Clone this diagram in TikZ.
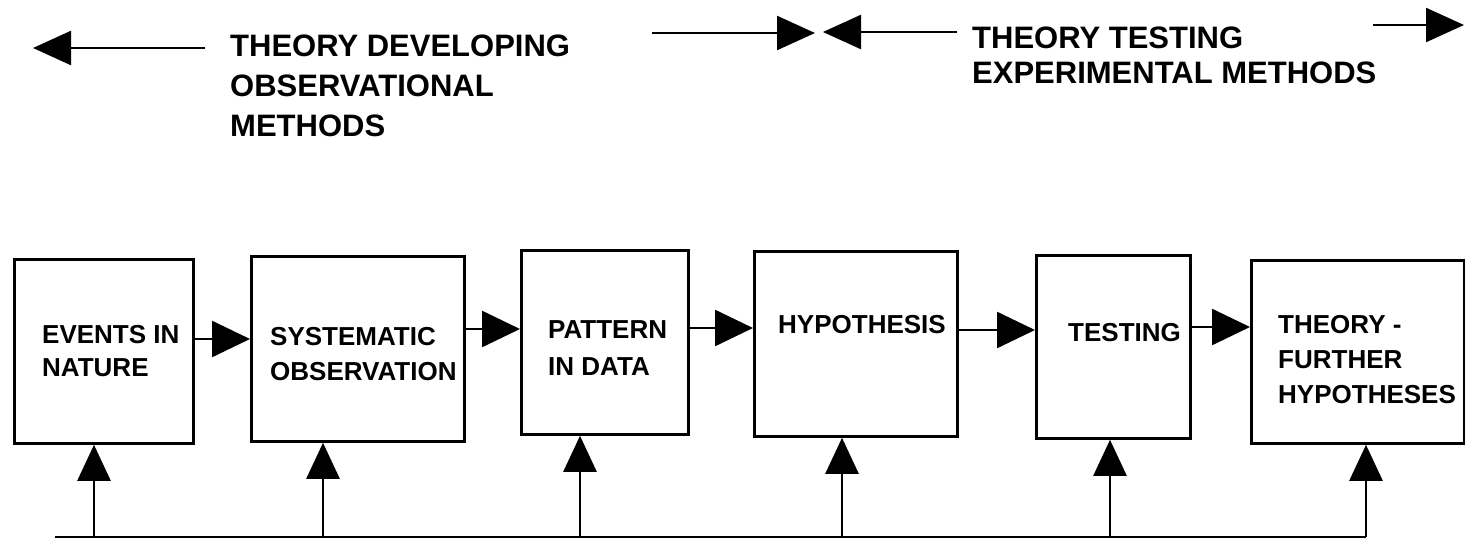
\documentclass[tikz,border=0pt]{standalone}
\usepackage{fontspec}
\setmainfont{Liberation Sans}
\usetikzlibrary{arrows.meta}
\begin{document}
\begin{tikzpicture}[x=1pt,y=-1pt,
  box/.style={draw, line width=2.8pt, anchor=north west, inner sep=0pt},
  hdr/.style={anchor=north west, inner sep=0pt, align=left, font=\bfseries\fontsize{31}{40}\selectfont},
  lbl/.style={anchor=north west, inner sep=0pt, align=left, font=\bfseries\fontsize{26}{35}\selectfont},
  conn/.style={line width=2.6pt, -{Triangle[length=38pt,width=36pt]}},
  up/.style={line width=2.6pt, -{Triangle[length=36pt,width=33pt]}},
  hd/.style={line width=2.4pt, -{Triangle[length=38pt,width=34pt]}},
  base/.style={line width=2.6pt}
]
\useasboundingbox (0,0) rectangle (1465,543);

% header
\node[hdr] (hl) at (230,35) {THEORY DEVELOPING\\OBSERVATIONAL\\METHODS};
\node[hdr, font=\bfseries\fontsize{31}{35}\selectfont] (hr) at (972,27) {THEORY TESTING\\EXPERIMENTAL METHODS};
\coordinate (h1s) at (205,48); \coordinate (h1e) at (33,48);
\coordinate (h2s) at (652,33); \coordinate (h2e) at (815,33);
\coordinate (h3s) at (957,32); \coordinate (h3e) at (823,32);
\coordinate (h4s) at (1373,25); \coordinate (h4e) at (1464,25);
\draw[hd] (h1s) -- (h1e);
\draw[hd] (h2s) -- (h2e);
\draw[hd] (h3s) -- (h3e);
\draw[hd] (h4s) -- (h4e);

% boxes
\node[box, minimum width=179pt, minimum height=184pt] (b1) at (13,258) {};
\node[box, minimum width=213pt, minimum height=185pt] (b2) at (250,255) {};
\node[box, minimum width=167pt, minimum height=184pt] (b3) at (520,249) {};
\node[box, minimum width=203pt, minimum height=185pt] (b4) at (753,250) {};
\node[box, minimum width=154pt, minimum height=183pt] (b5) at (1035,254) {};
\node[box, minimum width=213pt, minimum height=183pt] (b6) at (1250,259) {};

% labels
\node[lbl, font=\bfseries\fontsize{26}{33}\selectfont] (t1) at (42,325) {EVENTS IN\\NATURE};
\node[lbl] (t2) at (270,327) {SYSTEMATIC\\OBSERVATION};
\node[lbl, font=\bfseries\fontsize{26}{37}\selectfont] (t3) at (548,320) {PATTERN\\IN DATA};
\node[lbl] (t4) at (778,315) {HYPOTHESIS};
\node[lbl] (t5) at (1068,323) {TESTING};
\node[lbl] (t6) at (1278,315) {THEORY -\\FURTHER\\HYPOTHESES};

% forward arrows
\draw[conn] (b1.east |- 0,339) -- (b2.west |- 0,339);
\draw[conn] (b2.east |- 0,329) -- (b3.west |- 0,329);
\draw[conn] (b3.east |- 0,328) -- (b4.west |- 0,328);
\draw[conn] (b4.east |- 0,330) -- (b5.west |- 0,330);
\draw[conn] (b5.east |- 0,327) -- (b6.west |- 0,327);

% feedback base line
\coordinate (f0) at (55,537);
\coordinate (f1) at (94,537);
\coordinate (f2) at (323,537);
\coordinate (f3) at (580,537);
\coordinate (f4) at (842,537);
\coordinate (f5) at (1110,537);
\coordinate (f6) at (1366,537);
\draw[base] (f0) -- (f6);
\draw[up] (f1) -- (f1 |- b1.south);
\draw[up] (f2) -- (f2 |- b2.south);
\draw[up] (f3) -- (f3 |- b3.south);
\draw[up] (f4) -- (f4 |- b4.south);
\draw[up] (f5) -- (f5 |- b5.south);
\draw[up] (f6) -- (f6 |- b6.south);
\end{tikzpicture}
\end{document}
